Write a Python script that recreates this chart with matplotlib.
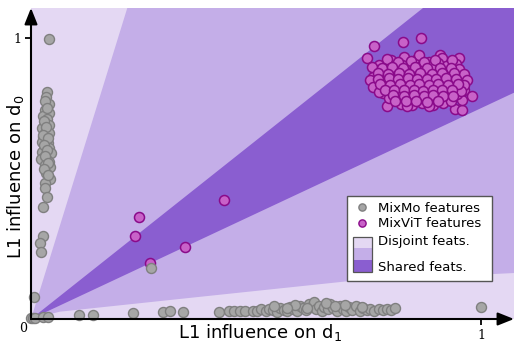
import matplotlib
matplotlib.use("Agg")
import matplotlib.pyplot as plt
from matplotlib.patches import Polygon, Rectangle
from matplotlib.lines import Line2D

# ---------------- data ----------------
mixvit_scatter = [(0.241, 0.364), (0.230, 0.295), (0.264, 0.200), (0.343, 0.256), (0.428, 0.424)]
mixvit_outliers = [(0.827, 0.984), (0.866, 1.000), (0.761, 0.971), (0.746, 0.927), (0.909, 0.938),
                   (0.950, 0.929), (0.791, 0.758), (0.961, 0.814), (0.979, 0.794), (0.941, 0.747),
                   (0.958, 0.743), (0.957, 0.779)]
mixvit_blob_a = [
    (0.800, 0.921), (0.829, 0.932), (0.858, 0.924), (0.884, 0.915), (0.912, 0.928),
    (0.774, 0.903), (0.792, 0.910), (0.816, 0.899), (0.841, 0.908), (0.869, 0.902), (0.896, 0.911), (0.921, 0.898), (0.944, 0.906),
    (0.765, 0.884), (0.786, 0.879), (0.809, 0.889), (0.831, 0.881), (0.856, 0.887), (0.876, 0.878), (0.901, 0.886), (0.926, 0.880), (0.951, 0.889),
    (0.759, 0.862), (0.779, 0.868), (0.801, 0.859), (0.822, 0.866), (0.846, 0.861), (0.866, 0.869), (0.886, 0.858), (0.906, 0.864), (0.931, 0.870), (0.952, 0.860),
    (0.764, 0.843), (0.786, 0.848), (0.806, 0.839), (0.829, 0.846), (0.851, 0.842), (0.871, 0.849), (0.891, 0.840), (0.911, 0.847), (0.934, 0.841), (0.956, 0.846),
    (0.771, 0.826), (0.791, 0.820), (0.812, 0.828), (0.834, 0.822), (0.856, 0.829), (0.876, 0.819), (0.897, 0.826), (0.919, 0.821), (0.941, 0.828),
    (0.781, 0.803), (0.801, 0.809), (0.824, 0.800), (0.846, 0.806), (0.866, 0.799), (0.886, 0.808), (0.906, 0.802), (0.929, 0.809), (0.947, 0.800),
    (0.796, 0.786), (0.816, 0.780), (0.839, 0.788), (0.861, 0.781), (0.881, 0.787), (0.902, 0.779), (0.924, 0.785),
    (0.821, 0.766), (0.846, 0.761), (0.869, 0.768), (0.894, 0.762), (0.916, 0.767)]
mixvit_blob_b = [
    (0.815, 0.915), (0.845, 0.918), (0.872, 0.914), (0.898, 0.920),
    (0.780, 0.893), (0.803, 0.896), (0.827, 0.893), (0.852, 0.896), (0.880, 0.893), (0.909, 0.894), (0.933, 0.893),
    (0.770, 0.874), (0.793, 0.872), (0.818, 0.876), (0.840, 0.871), (0.864, 0.876), (0.890, 0.872), (0.913, 0.875), (0.940, 0.876),
    (0.770, 0.853), (0.795, 0.856), (0.815, 0.852), (0.837, 0.856), (0.858, 0.852), (0.880, 0.855), (0.899, 0.852), (0.921, 0.856), (0.944, 0.853),
    (0.776, 0.834), (0.798, 0.833), (0.820, 0.836), (0.843, 0.832), (0.863, 0.836), (0.884, 0.832), (0.905, 0.835), (0.927, 0.832), (0.949, 0.834),
    (0.786, 0.815), (0.807, 0.813), (0.829, 0.814), (0.851, 0.816), (0.871, 0.812), (0.893, 0.815), (0.913, 0.813), (0.936, 0.815),
    (0.805, 0.795), (0.828, 0.793), (0.850, 0.796), (0.872, 0.793), (0.892, 0.795), (0.915, 0.794), (0.938, 0.792),
    (0.808, 0.775), (0.833, 0.774), (0.856, 0.776), (0.880, 0.773), (0.905, 0.776)]
mixvit_blob_c = [
    (0.790, 0.925), (0.862, 0.940), (0.905, 0.912), (0.935, 0.921), (0.758, 0.895),
    (0.824, 0.905), (0.888, 0.899), (0.963, 0.870), (0.752, 0.850), (0.968, 0.851),
    (0.817, 0.861), (0.878, 0.866), (0.924, 0.843), (0.760, 0.826), (0.963, 0.832),
    (0.838, 0.809), (0.898, 0.805), (0.773, 0.808), (0.955, 0.812), (0.812, 0.792),
    (0.866, 0.786), (0.932, 0.774), (0.836, 0.757), (0.884, 0.756)]

mixmo_vertical = [
    (0.035, 0.808), (0.033, 0.790), (0.039, 0.764), (0.031, 0.745), (0.040, 0.733), (0.027, 0.722),
    (0.036, 0.713), (0.030, 0.698), (0.039, 0.690), (0.025, 0.678), (0.033, 0.669), (0.040, 0.660),
    (0.027, 0.648), (0.035, 0.639), (0.024, 0.630), (0.037, 0.625), (0.030, 0.613), (0.040, 0.607),
    (0.025, 0.595), (0.033, 0.587), (0.044, 0.589), (0.027, 0.571), (0.035, 0.565), (0.022, 0.568),
    (0.040, 0.559), (0.031, 0.547), (0.042, 0.539), (0.033, 0.520), (0.042, 0.497), (0.030, 0.482),
    (0.031, 0.465), (0.035, 0.435), (0.027, 0.399), (0.027, 0.295), (0.020, 0.269), (0.022, 0.239),
    (0.030, 0.776), (0.036, 0.752), (0.028, 0.705), (0.034, 0.684), (0.026, 0.655), (0.038, 0.645),
    (0.029, 0.618), (0.036, 0.600), (0.030, 0.578), (0.038, 0.553), (0.028, 0.532), (0.037, 0.512)]
mixmo_other = [(0.040, 0.995), (0.007, 0.078), (0.267, 0.181), (1.000, 0.043)]
mixmo_origin = [(0.000, 0.003), (0.004, 0.002), (0.009, 0.003), (0.027, 0.008), (0.038, 0.006)]
mixmo_bottom = [
    (0.107, 0.013), (0.138, 0.013), (0.227, 0.020), (0.293, 0.025), (0.309, 0.028), (0.338, 0.025),
    (0.418, 0.025), (0.440, 0.030), (0.451, 0.028), (0.464, 0.030), (0.475, 0.028),
    (0.493, 0.030), (0.503, 0.027), (0.512, 0.034), (0.521, 0.029), (0.529, 0.037), (0.538, 0.031),
    (0.546, 0.026), (0.553, 0.040), (0.561, 0.033), (0.569, 0.028), (0.576, 0.044), (0.583, 0.035),
    (0.590, 0.030), (0.597, 0.047), (0.604, 0.038), (0.610, 0.031), (0.617, 0.055), (0.622, 0.042),
    (0.628, 0.060), (0.634, 0.036), (0.640, 0.048), (0.646, 0.030), (0.652, 0.041), (0.659, 0.034),
    (0.665, 0.052), (0.672, 0.038), (0.679, 0.029), (0.686, 0.045), (0.693, 0.035), (0.700, 0.028),
    (0.707, 0.042), (0.714, 0.033), (0.722, 0.047), (0.730, 0.030), (0.738, 0.039), (0.746, 0.032),
    (0.754, 0.036), (0.763, 0.030), (0.772, 0.034), (0.781, 0.031), (0.790, 0.035), (0.800, 0.033),
    (0.808, 0.038), (0.540, 0.045), (0.587, 0.051), (0.613, 0.040), (0.655, 0.057), (0.698, 0.051),
    (0.735, 0.043), (0.675, 0.047), (0.568, 0.039)]

# region boundaries (slopes through origin / sampled lower boundary)
upper_disjoint_slope = 5.17
upper_shared_slope = 1.27
lower_shared_slope = 0.75
lower_disjoint_curve = [(0.0, 0.0), (0.064, 0.026), (0.376, 0.079), (0.708, 0.135), (1.073, 0.1635)]

legend_labels = ["MixMo features", "MixViT features", "Disjoint feats.", "Shared feats."]

# ---------------- style ----------------
C_LIGHT = "#e4d8f3"
C_MED = "#c4aee8"
C_DARK = "#8a5ed0"
GRAY_FACE, GRAY_EDGE = "#a6a6a6", "#7f7f7f"
PUR_FACE, PUR_EDGE = "#c862c8", "#8a0a8a"

W, H = 514, 345
fig = plt.figure(figsize=(W / 100, H / 100), dpi=100)
ax = fig.add_axes([31 / W, 1 - 319 / H, (514 - 31) / W, (319 - 8) / H])
XMAX, YMAX = 1.073, 1.106
ax.set_xlim(0, XMAX)
ax.set_ylim(0, YMAX)

# background regions
ax.add_patch(Rectangle((0, 0), XMAX, YMAX, facecolor=C_LIGHT, edgecolor="none", zorder=0))
med_poly = [(0, 0), (YMAX / upper_disjoint_slope, YMAX), (XMAX, YMAX)] + lower_disjoint_curve[::-1]
ax.add_patch(Polygon(med_poly, closed=True, facecolor=C_MED, edgecolor="none", zorder=0.5))
dark_poly = [(0, 0), (YMAX / upper_shared_slope, YMAX), (XMAX, YMAX),
             (XMAX, XMAX * lower_shared_slope)]
ax.add_patch(Polygon(dark_poly, closed=True, facecolor=C_DARK, edgecolor="none", zorder=0.6))

def xy(pts):
    return [p[0] for p in pts], [p[1] for p in pts]

S = 52
for pts in (mixvit_scatter, mixvit_outliers, mixvit_blob_a, mixvit_blob_c, mixvit_blob_b):
    x, y = xy(pts)
    ax.scatter(x, y, s=S, facecolor=PUR_FACE, edgecolor=PUR_EDGE, linewidth=1.1, zorder=3, clip_on=False)
for pts in (mixmo_vertical, mixmo_other, mixmo_origin, mixmo_bottom):
    x, y = xy(pts)
    ax.scatter(x, y, s=S, facecolor=GRAY_FACE, edgecolor=GRAY_EDGE, linewidth=1.0, zorder=4, clip_on=False)

# axes with arrows
for s in ax.spines.values():
    s.set_visible(False)
arrow_kw = dict(arrowstyle="-|>,head_length=0.7,head_width=0.28", color="black", lw=1.5,
                shrinkA=0, shrinkB=0, mutation_scale=14)
ax.annotate("", xy=(1.0, 0), xytext=(0, 0), xycoords="axes fraction", arrowprops=arrow_kw,
            annotation_clip=False, zorder=6)
ax.annotate("", xy=(0, 1.0), xytext=(0, 0), xycoords="axes fraction", arrowprops=arrow_kw,
            annotation_clip=False, zorder=6)

ax.set_xticks([1])
ax.set_yticks([1])
ax.set_xticklabels(["1"], family="DejaVu Serif", fontsize=9)
ax.set_yticklabels(["1"], family="DejaVu Serif", fontsize=9)
ax.tick_params(direction="out", length=4.5, width=1.3, pad=2.5)

def fpos(px, py):
    return px / W, 1 - py / H

fig.text(*fpos(22.7, 328.5), "0", family="DejaVu Serif", fontsize=9, ha="center", va="center")
fig.text(*fpos(260, 338), r"L1 influence on d$_1$", fontsize=13, ha="center", va="baseline")
fig.text(*fpos(15.5, 176.5), r"L1 influence on d$_0$", fontsize=13, ha="center", va="center",
         rotation=90)

# manual legend
tf = fig.transFigure
x0, y0 = fpos(346.5, 280.5)
x1, y1 = fpos(491.5, 195.5)
fig.add_artist(Rectangle((x0, y0), x1 - x0, y1 - y0, transform=tf, facecolor="white",
                         edgecolor="#555555", lw=1.0, zorder=10))
mx, _ = fpos(361.7, 0)
for py, fc, ec in ((207.0, GRAY_FACE, GRAY_EDGE), (223.0, PUR_FACE, PUR_EDGE)):
    fig.add_artist(Line2D([mx], [fpos(0, py)[1]], transform=tf, marker="o", markersize=5.2,
                          markerfacecolor=fc, markeredgecolor=ec, markeredgewidth=1.0,
                          linestyle="none", zorder=11))
hx0, _ = fpos(352.5, 0)
hx1, _ = fpos(371.5, 0)
bands = [(236.7, 248.3, C_LIGHT), (248.3, 260.0, C_MED), (260.0, 271.7, C_DARK)]
for ta, tb, c in bands:
    _, ya = fpos(0, tb)
    _, yb = fpos(0, ta)
    fig.add_artist(Rectangle((hx0, ya), hx1 - hx0, yb - ya, transform=tf, facecolor=c,
                             edgecolor="none", zorder=11))
_, ya = fpos(0, 271.7)
_, yb = fpos(0, 236.7)
fig.add_artist(Rectangle((hx0, ya), hx1 - hx0, yb - ya, transform=tf, facecolor="none",
                         edgecolor="#555555", lw=0.9, zorder=12))
tx, _ = fpos(377.5, 0)
for lab, py in zip(legend_labels, (208.3, 223.3, 241.7, 267.3)):
    fig.text(tx, fpos(0, py)[1], lab, fontsize=9.5, ha="left", va="center", zorder=12)

fig.savefig("out.png", dpi=100)
